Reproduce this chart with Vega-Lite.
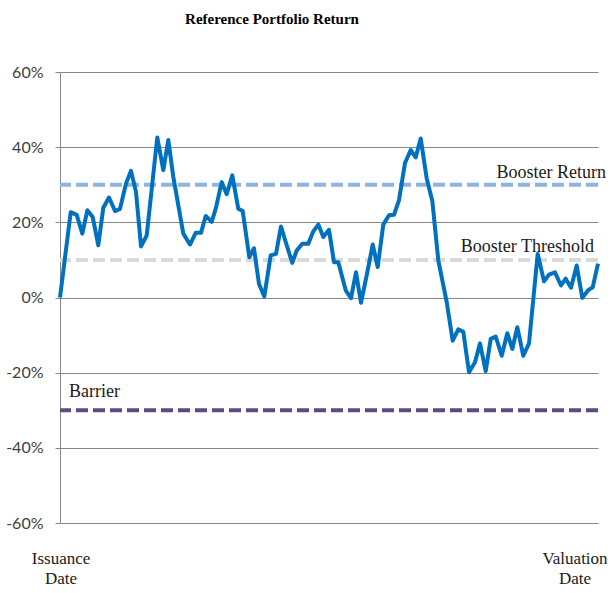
{
  "$schema": "https://vega.github.io/schema/vega-lite/v6.json",
  "width": 538,
  "height": 451,
  "autosize": {"type": "none"},
  "padding": {"left": 60, "top": 72, "right": 16, "bottom": 70},
  "background": "white",
  "title": {"text": "Reference Portfolio Return", "font": "Liberation Serif", "fontSize": 15, "fontWeight": "bold", "color": "#000000", "anchor": "middle", "frame": "group", "dx": -57, "offset": 22, "baseline": "bottom"},
  "config": {"view": {"stroke": null}},
  "datasets": {
    "levels": [
      {"name": "Booster Threshold", "v": 10},
      {"name": "Booster Return", "v": 30},
      {"name": "Barrier", "v": -30}
    ],
    "series": [
      {"t": 0, "v": 0}, {"t": 10.7, "v": 22.7}, {"t": 16.7, "v": 22}, {"t": 22.3, "v": 17}, {"t": 27.3, "v": 23.2},
      {"t": 32.7, "v": 21.4}, {"t": 38.3, "v": 13.9}, {"t": 43.3, "v": 23.9}, {"t": 49, "v": 26.6}, {"t": 55, "v": 23},
      {"t": 60, "v": 23.6}, {"t": 66, "v": 30.3}, {"t": 71, "v": 33.7}, {"t": 76, "v": 28.1}, {"t": 81, "v": 13.6},
      {"t": 86.7, "v": 16.5}, {"t": 97.3, "v": 42.6}, {"t": 103.3, "v": 33.9}, {"t": 108.3, "v": 41.9}, {"t": 113.3, "v": 32.1},
      {"t": 123.3, "v": 17}, {"t": 130, "v": 14.1}, {"t": 135.7, "v": 17.2}, {"t": 141, "v": 17.2}, {"t": 145.7, "v": 21.7},
      {"t": 151.7, "v": 20.1}, {"t": 156, "v": 23.9}, {"t": 161.7, "v": 30.7}, {"t": 166.7, "v": 27.5}, {"t": 172.3, "v": 32.5},
      {"t": 178.3, "v": 23.6}, {"t": 182.7, "v": 23}, {"t": 189.3, "v": 10.7}, {"t": 194, "v": 13.1}, {"t": 199, "v": 3.6},
      {"t": 204.3, "v": 0.3}, {"t": 210.7, "v": 11.2}, {"t": 216, "v": 11.6}, {"t": 221, "v": 18.9}, {"t": 226.7, "v": 13.9},
      {"t": 232.3, "v": 9.2}, {"t": 236.7, "v": 12.5}, {"t": 242.3, "v": 14.3}, {"t": 248.3, "v": 14.3}, {"t": 253.3, "v": 17.6},
      {"t": 258.3, "v": 19.4}, {"t": 263.3, "v": 16.1}, {"t": 269, "v": 18}, {"t": 274, "v": 9.4}, {"t": 278.3, "v": 9.4},
      {"t": 285.7, "v": 1.9}, {"t": 291, "v": -0.2}, {"t": 296, "v": 6.7}, {"t": 301, "v": -1.4}, {"t": 307.3, "v": 6.7},
      {"t": 312.7, "v": 14.1}, {"t": 317.7, "v": 8.1}, {"t": 323.3, "v": 19.4}, {"t": 329, "v": 21.9}, {"t": 334, "v": 22},
      {"t": 339, "v": 25.9}, {"t": 345, "v": 35.8}, {"t": 350.7, "v": 39.2}, {"t": 355.7, "v": 37.3}, {"t": 360.7, "v": 42.3},
      {"t": 366.7, "v": 31.7}, {"t": 372.3, "v": 25.7}, {"t": 378.3, "v": 9.9}, {"t": 386.7, "v": -1.2}, {"t": 392.7, "v": -11.5},
      {"t": 398.3, "v": -8.5}, {"t": 403.3, "v": -9.1}, {"t": 409, "v": -19.9}, {"t": 415, "v": -17.2}, {"t": 420, "v": -12.2},
      {"t": 425.7, "v": -19.6}, {"t": 430.7, "v": -11}, {"t": 435.7, "v": -10.4}, {"t": 441.7, "v": -15.5}, {"t": 447.3, "v": -9.5},
      {"t": 452.3, "v": -13.7}, {"t": 457.3, "v": -7.9}, {"t": 463.3, "v": -15.5}, {"t": 469, "v": -12.2}, {"t": 477.7, "v": 11.6},
      {"t": 484, "v": 4.3}, {"t": 489, "v": 6.1}, {"t": 495, "v": 6.7}, {"t": 501, "v": 3.2}, {"t": 505.7, "v": 5},
      {"t": 511, "v": 2.6}, {"t": 516.7, "v": 8.5}, {"t": 522.3, "v": -0.1}, {"t": 528.3, "v": 2}, {"t": 532.7, "v": 2.7},
      {"t": 538, "v": 9}
    ],
    "notesRight": [
      {"label": "Booster Return", "t": 546, "v": 31.7},
      {"label": "Booster Threshold", "t": 534, "v": 12.1}
    ],
    "notesLeft": [
      {"label": "Barrier", "t": 9, "v": -26.6}
    ],
    "dates": [
      {"label": "Issuance\nDate", "t": 1, "v": -67.5},
      {"label": "Valuation\nDate", "t": 515, "v": -67.5}
    ]
  },
  "layer": [
    {
      "data": {"name": "levels"},
      "mark": {"type": "rule", "strokeWidth": 4, "strokeDash": [12, 5]},
      "encoding": {
        "y": {
          "field": "v", "type": "quantitative",
          "scale": {"domain": [-60, 60], "nice": false, "zero": false},
          "axis": {
            "values": [-60, -40, -20, 0, 20, 40, 60],
            "labelExpr": "datum.value + '%'",
            "title": null,
            "grid": true, "gridColor": "#868686", "gridWidth": 1, "gridOpacity": 1,
            "domainColor": "#868686", "domainWidth": 1,
            "tickColor": "#868686", "tickSize": 5, "tickWidth": 1,
            "labelPadding": 12, "labelFont": "Lato", "labelFontSize": 16, "labelColor": "#404040"
          }
        },
        "color": {
          "field": "name", "type": "nominal",
          "scale": {"domain": ["Booster Threshold", "Booster Return", "Barrier"], "range": ["#D9D9D9", "#8DB4E2", "#604A7B"]},
          "legend": null
        }
      }
    },
    {
      "data": {"name": "series"},
      "mark": {"type": "line", "color": "#0070C0", "strokeWidth": 4, "strokeJoin": "round"},
      "encoding": {
        "x": {"field": "t", "type": "quantitative", "scale": {"domain": [0, 538], "nice": false, "zero": false}, "axis": null},
        "y": {"field": "v", "type": "quantitative"}
      }
    },
    {
      "data": {"name": "notesRight"},
      "mark": {"type": "text", "align": "right", "baseline": "alphabetic", "font": "Liberation Serif", "fontSize": 18, "color": "#1a1a1a"},
      "encoding": {
        "x": {"field": "t", "type": "quantitative"},
        "y": {"field": "v", "type": "quantitative"},
        "text": {"field": "label"}
      }
    },
    {
      "data": {"name": "notesLeft"},
      "mark": {"type": "text", "align": "left", "baseline": "alphabetic", "font": "Liberation Serif", "fontSize": 18, "color": "#1a1a1a"},
      "encoding": {
        "x": {"field": "t", "type": "quantitative"},
        "y": {"field": "v", "type": "quantitative"},
        "text": {"field": "label"}
      }
    },
    {
      "data": {"name": "dates"},
      "mark": {"type": "text", "align": "center", "baseline": "top", "lineBreak": "\n", "lineHeight": 20, "font": "Liberation Serif", "fontSize": 17, "color": "#1a1a1a"},
      "encoding": {
        "x": {"field": "t", "type": "quantitative"},
        "y": {"field": "v", "type": "quantitative"},
        "text": {"field": "label"}
      }
    }
  ]
}
